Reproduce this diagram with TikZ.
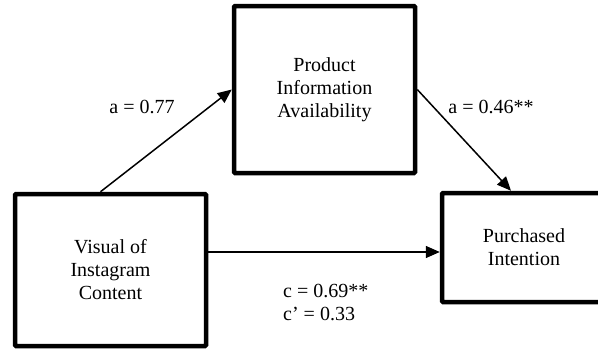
\documentclass[tikz,border=0pt]{standalone}
\usepackage{fontspec}
\setmainfont{Liberation Serif}
\usetikzlibrary{arrows.meta,calc}
\begin{document}
\begin{tikzpicture}[x=1pt,y=-1pt,
  box/.style={draw, line width=4.5pt, rounded corners=1pt, align=center, inner sep=0pt,
    font=\fontsize{20}{23}\selectfont},
  lbl/.style={font=\fontsize{20}{23}\selectfont, inner sep=0pt},
  conn/.style={line width=1.5pt, -{Triangle[length=14pt,width=12pt]}}]
\useasboundingbox (0,0) rectangle (598,351);
\clip (0,0) rectangle (598,351);
\node[box, minimum width=191pt, minimum height=152pt] (vic) at (110.5,270) {Visual of\\Instagram\\Content};
\node[box, minimum width=181pt, minimum height=167pt] (pia) at (324.5,89.5) {Product\\Information\\Availability};
\node[box, minimum width=164pt, minimum height=109pt] (pi) at (524,247.5) {Purchased\\Intention};
\coordinate (s1) at ([xshift=-10pt]vic.north);
\coordinate (t2) at ([xshift=-13pt]pi.north);
\coordinate (s3) at (vic.east |- 0,252);
\coordinate (t3) at (pi.west |- 0,252);
\draw[conn] (s1) -- (pia.west);
\draw[conn] (pia.east) -- (t2);
\draw[conn] (s3) -- (t3);
\node[lbl] (l1) at (142,107) {a = 0.77};
\node[lbl] (l2) at (491,107) {a = 0.46**};
\node[lbl, anchor=west, align=left] (l3) at (283,302) {c = 0.69**\\c’ = 0.33};
\end{tikzpicture}
\end{document}
